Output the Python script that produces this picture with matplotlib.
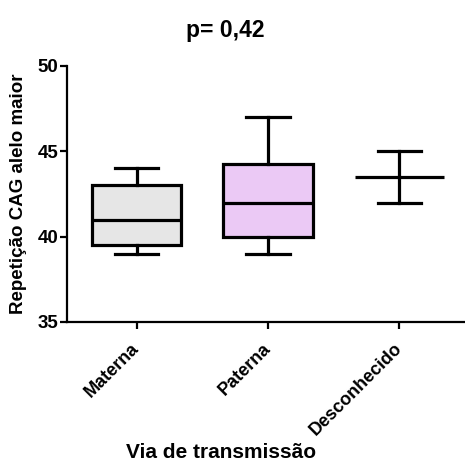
import matplotlib
matplotlib.use("Agg")
import matplotlib.pyplot as plt

categories = ["Materna", "Paterna", "Desconhecido"]
whislo = [39, 39, 42]
q1 = [39.5, 40, 43.5]
med = [41, 42, 43.5]
q3 = [43, 44.25, 43.5]
whishi = [44, 47, 45]
fills = ["#e6e6e6", "#ebc9f5", "none"]

plt.rcParams['font.family'] = ['Liberation Sans', 'DejaVu Sans']
plt.rcParams['font.weight'] = 'bold'

fig = plt.figure(figsize=(4.65, 4.66), dpi=100)
ax = fig.add_axes([67/465, 1-322/466, 1-67/465, (322-66)/466])

stats = []
for i, c in enumerate(categories):
    stats.append(dict(label=c, whislo=whislo[i], q1=q1[i], med=med[i], q3=q3[i], whishi=whishi[i], fliers=[]))

lw = 2.3
bp = ax.bxp(stats, positions=[1, 2, 3], widths=0.68, patch_artist=True, showfliers=False,
            boxprops=dict(linewidth=lw, edgecolor='black'),
            whiskerprops=dict(linewidth=lw, color='black'),
            capprops=dict(linewidth=lw, color='black'),
            medianprops=dict(linewidth=lw, color='black', solid_capstyle='butt'),
            capwidths=0.33)
for i, b in enumerate(bp['boxes']):
    if fills[i] == "none":
        b.set_facecolor('none')
        b.set_edgecolor('none')
        b.set_linewidth(0)
    else:
        b.set_facecolor(fills[i])
for m in bp['medians']:
    m.set_zorder(5)

ax.set_ylim(35, 50)
ax.set_xlim(0.47, 3.5)
ax.set_yticks([35, 40, 45, 50])
ax.set_xticks([1, 2, 3])
ax.set_xticklabels(categories, rotation=45, ha='right', va='center', rotation_mode='anchor',
                   fontsize=13, fontweight='bold')
for t in ax.get_yticklabels():
    t.set_fontsize(13.5)
    t.set_fontweight('bold')
ax.spines['top'].set_visible(False)
ax.spines['right'].set_visible(False)
ax.spines['left'].set_linewidth(1.6)
ax.spines['bottom'].set_linewidth(1.6)
ax.tick_params(axis='both', width=1.6, length=5, direction='out')
ax.tick_params(axis='y', pad=1)
ax.tick_params(axis='x', pad=12)

ax.set_ylabel("Repetição CAG alelo maior", fontsize=13.5, fontweight='bold')
ax.yaxis.set_label_coords(-(67-27)/(465-67), 0.5)
fig.text(221/465, 1-452/466, "Via de transmissão", ha='center', va='center', fontsize=15, fontweight='bold')
fig.text(225/465, 1-30/466, "p= 0,42", ha='center', va='center', fontsize=16.5, fontweight='bold')

fig.savefig("out.png", dpi=100)
